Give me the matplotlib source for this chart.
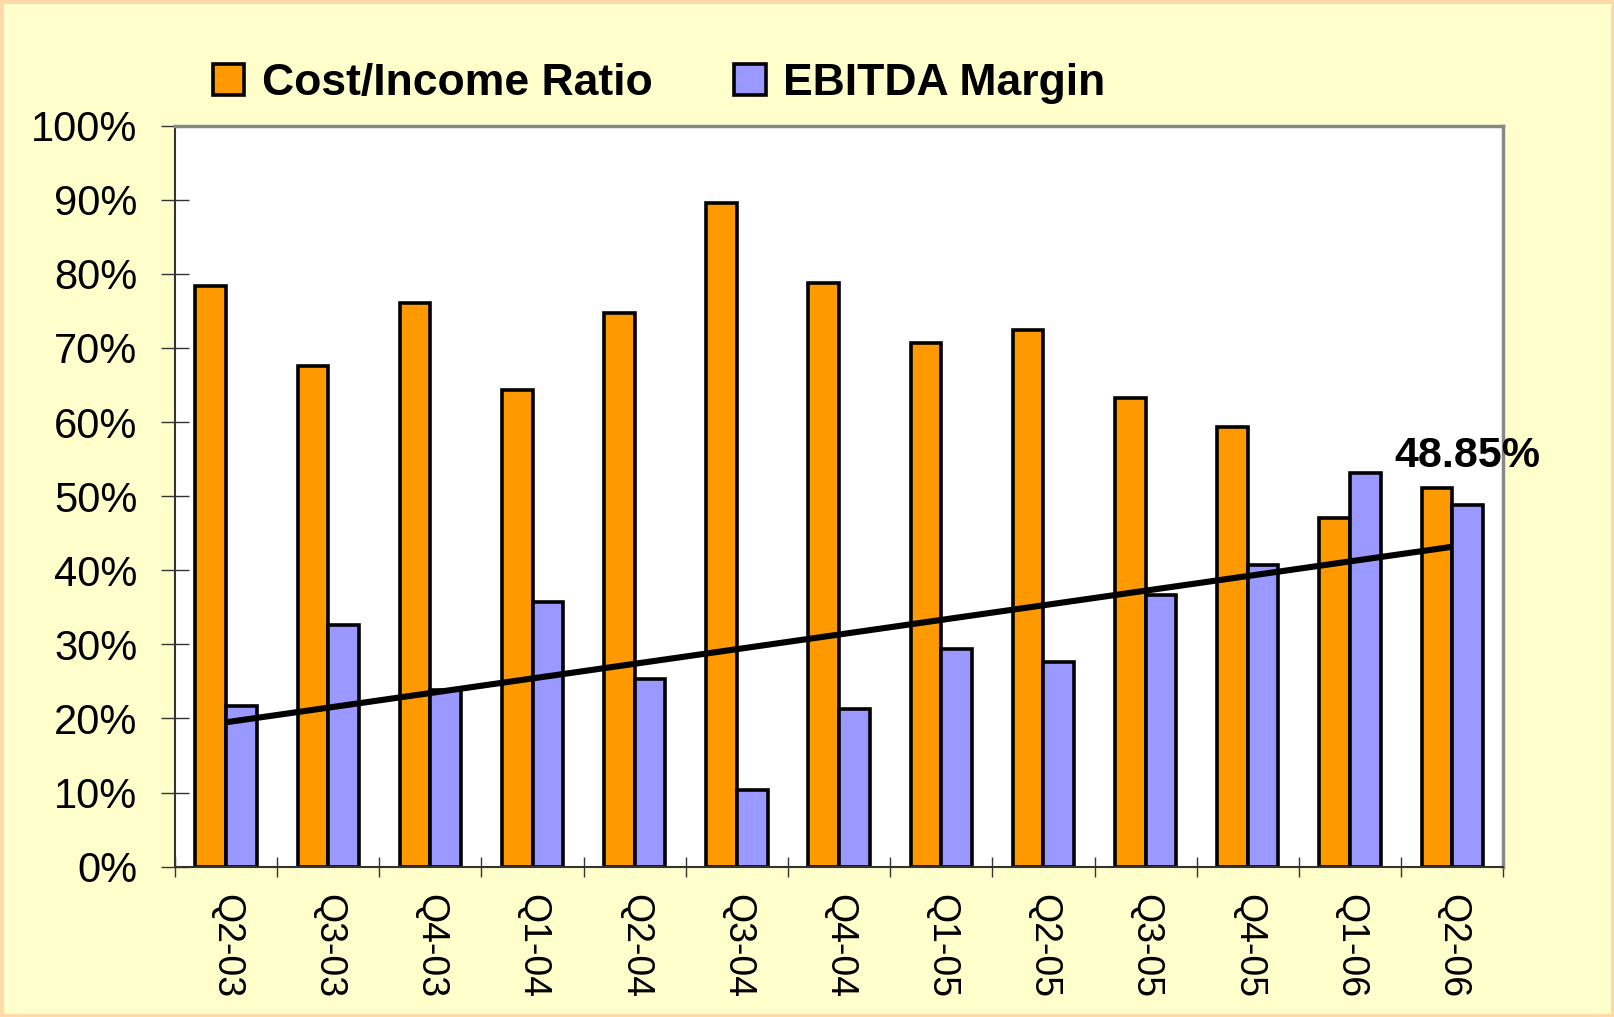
import numpy as np
import matplotlib
matplotlib.use("Agg")
import matplotlib.pyplot as plt
import matplotlib.ticker as mticker
from matplotlib.patches import Rectangle

plt.rcParams['font.family'] = ['Liberation Sans', 'DejaVu Sans']

# data
quarters = ['Q2-03', 'Q3-03', 'Q4-03', 'Q1-04', 'Q2-04', 'Q3-04', 'Q4-04',
            'Q1-05', 'Q2-05', 'Q3-05', 'Q4-05', 'Q1-06', 'Q2-06']
cost_income = [78.3, 67.5, 76.0, 64.3, 74.7, 89.6, 78.7, 70.6, 72.4, 63.3, 59.3, 47.1, 51.1]
ebitda = [21.7, 32.6, 23.9, 35.7, 25.3, 10.4, 21.3, 29.4, 27.6, 36.7, 40.7, 53.1, 48.85]

bg = '#FFFFCC'
orange = '#FF9900'
lavender = '#9999FF'

fig = plt.figure(figsize=(16.14, 10.17), dpi=100, facecolor=bg)
fig.patches.append(Rectangle((0, 0), 1, 1, transform=fig.transFigure,
                             facecolor='none', edgecolor='#FFD9A8', linewidth=5))
ax = fig.add_axes([0.1084, 0.1478, 0.823, 0.7287])
ax.set_facecolor('white')

x = np.arange(len(quarters))
w = 0.3
ax.bar(x - w / 2, cost_income, w, color=orange, edgecolor='black', linewidth=2.6,
       label='Cost/Income Ratio', zorder=2)
ax.bar(x + w / 2, ebitda, w, color=lavender, edgecolor='black', linewidth=2.6,
       label='EBITDA Margin', zorder=2)

# linear trend of the EBITDA margin
k, b = np.polyfit(x, ebitda, 1)
ax.plot(x, k * x + b, color='black', linewidth=4.4, zorder=3, solid_capstyle='butt')

ax.text(x[-1] + 0.15, ebitda[-1] + 6.6, f"{ebitda[-1]:.2f}%", ha='center', va='center',
        fontsize=31, fontweight='bold', zorder=4)

ax.set_xlim(-0.5, len(quarters) - 0.5)
ax.set_ylim(0, 100)
ax.set_yticks(np.arange(0, 101, 10))
ax.yaxis.set_major_formatter(mticker.FuncFormatter(lambda v, p: f"{v:.0f}%"))
ax.tick_params(axis='y', direction='inout', length=20, width=1, color='#333333',
               labelsize=30, pad=17)

ax.set_xticks(x)
ax.set_xticklabels(quarters, rotation=-90, fontsize=27, va='top', ha='center')
ax.tick_params(axis='x', which='major', length=0, pad=20)
ax.set_xticks(np.arange(-0.5, len(quarters), 1), minor=True)
ax.tick_params(axis='x', which='minor', direction='inout', length=14, width=1, color='#333333')

for s in ['left', 'bottom']:
    ax.spines[s].set_color('#333333')
    ax.spines[s].set_linewidth(1.5)
for s in ['top', 'right']:
    ax.spines[s].set_color('#888888')
    ax.spines[s].set_linewidth(2.5)

leg = fig.legend(loc='center left', bbox_to_anchor=(0.1097, 0.918), ncol=2,
                 prop={'weight': 'bold', 'size': 32}, frameon=True, facecolor=bg,
                 edgecolor='none', framealpha=1, fancybox=False, handlelength=0.7,
                 handleheight=0.7, handletextpad=0.4, columnspacing=1.85, borderpad=0.3)
for h in leg.legend_handles:
    h.set_linewidth(2.6)

fig.savefig('out.png', dpi=100, facecolor=bg)
